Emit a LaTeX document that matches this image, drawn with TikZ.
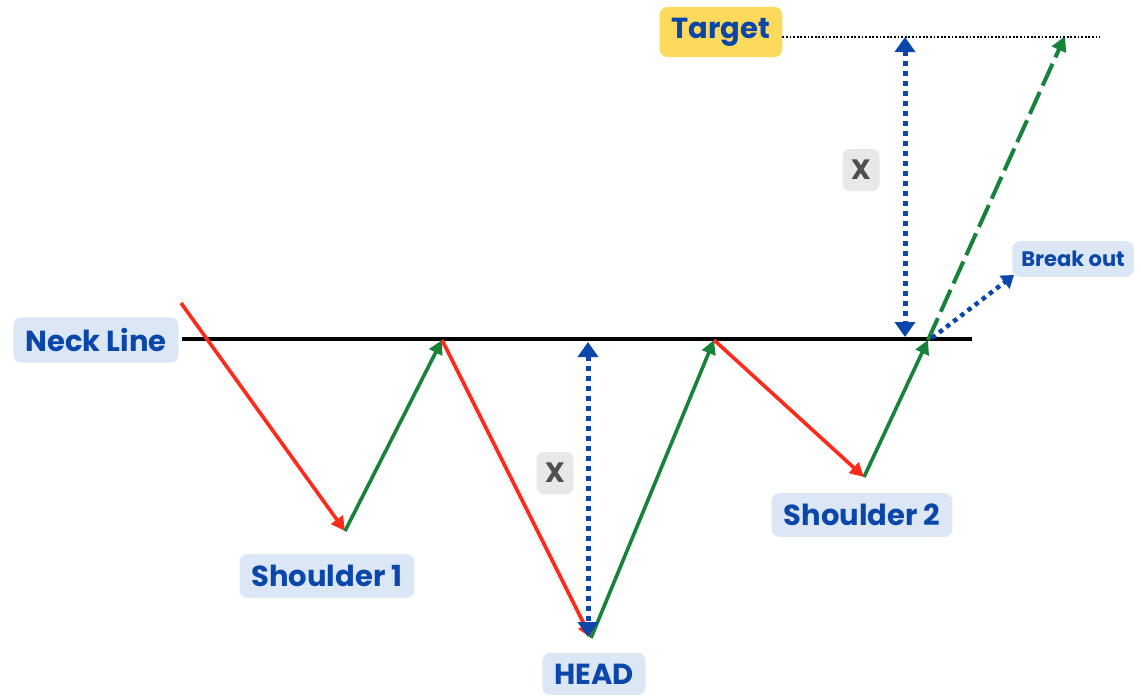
\documentclass[tikz,border=0pt]{standalone}
\usepackage{fontspec}
\setmainfont{Poppins}
\usetikzlibrary{arrows.meta}
\definecolor{rd}{HTML}{FF2A1A}
\definecolor{gn}{HTML}{17833A}
\definecolor{bl}{HTML}{0B47AA}
\definecolor{lbl}{HTML}{DCE7F5}
\definecolor{ylw}{HTML}{FDD95C}
\definecolor{gbox}{HTML}{E8E8E8}
\definecolor{gtxt}{HTML}{505050}
\tikzset{
  lab/.style={fill=lbl, rounded corners=8pt, text=bl, font=\bfseries\fontsize{29}{32}\selectfont, inner xsep=12pt, inner ysep=11pt},
  xlab/.style={fill=gbox, rounded corners=7pt, text=gtxt, font=\bfseries\fontsize{28}{30}\selectfont, minimum width=37pt, minimum height=42pt, inner sep=0pt},
  down/.style={rd, line width=3.6pt, -{Triangle[length=14pt,width=14pt]}},
  up/.style={gn, line width=3.6pt, -{Triangle[length=14pt,width=14pt]}},
  meas/.style={bl, line width=5pt, dash pattern=on 5pt off 5pt, {Triangle[length=15pt,width=20pt]}-{Triangle[length=15pt,width=20pt]}},
}
\begin{document}
\begin{tikzpicture}[x=1pt,y=-1pt]
\useasboundingbox (0,0) rectangle (1141,696);
% points
\coordinate (p0) at (181,303);
\coordinate (s1) at (345,531);
\coordinate (n1) at (442,340);
\coordinate (hd) at (591,638);
\coordinate (n2) at (714,340);
\coordinate (s2) at (864,477);
\coordinate (n3) at (928,340);
\coordinate (tg) at (1065,36);
\coordinate (nlL) at (182,339);
\coordinate (nlR) at (972,339);
\coordinate (hm1) at (588,342);
\coordinate (hm2) at (588,637);
\coordinate (tm1) at (905,37);
\coordinate (tm2) at (905,337);
\coordinate (bo1) at (932,338);
\coordinate (bo2) at (1014,275);
\coordinate (tl2) at (1100,37);
% neck line
\draw[line width=4.2pt] (nlL) -- (nlR);
% price path
\draw[down] (p0) -- (s1);
\draw[up] (s1) -- (n1);
\draw[down] (n1) -- (hd);
\draw[up] (hd) -- (n2);
\draw[down] (n2) -- (s2);
\draw[up] (s2) -- (n3);
\draw[gn, line width=4pt, dash pattern=on 24pt off 7pt, -{Triangle[length=15pt,width=15pt]}] (n3) -- (tg);
% measures
\draw[meas] (hm1) -- (hm2);
\draw[meas] (tm1) -- (tm2);
\draw[bl, line width=4.5pt, dash pattern=on 4.5pt off 4.5pt, -{Triangle[length=12pt,width=16pt]}] (bo1) -- (bo2);
% labels
\node[lab] (neck) at (96,340) {Neck Line};
\node[lab] (sh1) at (327,576) {Shoulder 1};
\node[lab] (head) at (594,674) {HEAD};
\node[lab] (sh2) at (862,515) {Shoulder 2};
\node[lab, font=\bfseries\fontsize{21}{24}\selectfont, inner xsep=9pt, inner ysep=10pt] (brk) at (1073,259) {Break out};
\node[lab, fill=ylw] (targ) at (721,32) {Target};
\draw[line width=1.6pt, dash pattern=on 1.8pt off 1.8pt] (targ.east |- tl2) -- (tl2);
\node[xlab] (x1) at (861,170) {X};
\node[xlab] (x2) at (555,473) {X};
\end{tikzpicture}
\end{document}
